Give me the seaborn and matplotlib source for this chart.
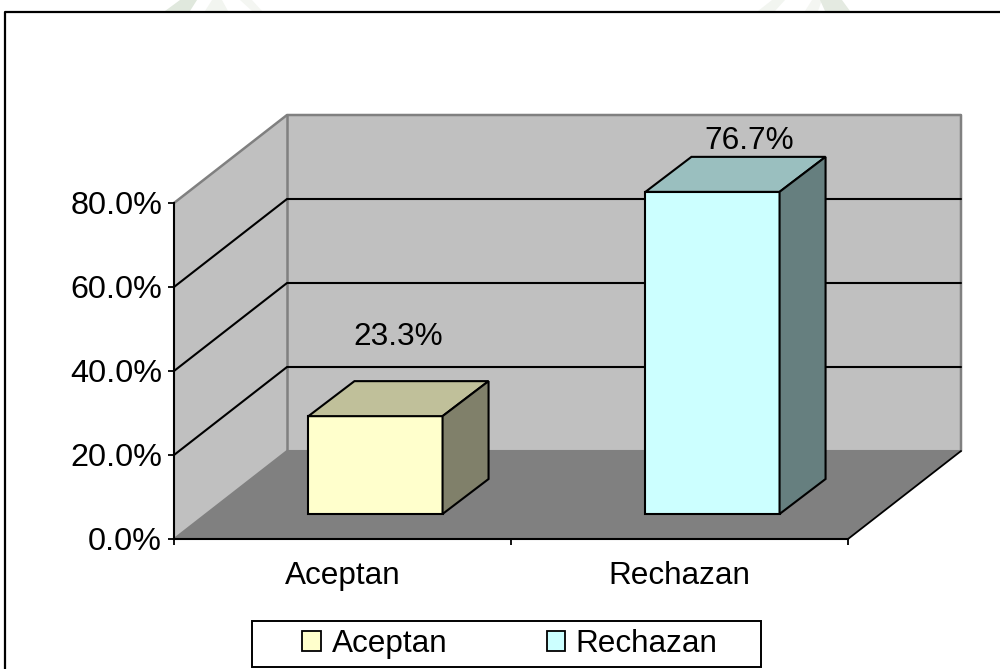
import matplotlib
matplotlib.use("Agg")
import matplotlib.pyplot as plt
from matplotlib.patches import Rectangle
import pandas as pd
import seaborn as sns

categorias = ["Aceptan", "Rechazan"]
porcentajes = [23.3, 76.7]
ticks_y = [0, 20, 40, 60, 80]
colores = ["#FFFFCC", "#CCFFFF"]
colores_top = ["#C0C09A", "#9ABFBF"]
colores_lado = ["#80806A", "#667F7F"]

W, H = 1000, 669
sns.set_theme(style="white")
plt.rcParams["font.family"] = ["Liberation Sans", "DejaVu Sans"]
FS = 22.7


def caja(x0, y0, x1, y1):
    # pixeles de la imagen (y hacia abajo) a fraccion de figura
    return [x0 / W, 1 - y1 / H, (x1 - x0) / W, (y1 - y0) / H]


fig = plt.figure(figsize=(W / 100, H / 100), dpi=100, facecolor="white")

# marco del grafico, marca de agua de la pagina y caja de la leyenda
fondo = fig.add_axes([0, 0, 1, 1], zorder=0)
fondo.set_xlim(0, W)
fondo.set_ylim(H, 0)
fondo.axis("off")
marcas = [
    ([165, 180, 197, 190], "#E0E8DD"),
    ([205, 212, 222, 228], "#F2F5F0"),
    ([252, 240, 252, 262], "#F4F6F2"),
    ([758, 772, 785, 775], "#F2F5F0"),
    ([805, 812, 822, 818], "#F4F6F2"),
    ([825, 820, 842, 850], "#E4EAE1"),
]
for xs, c in marcas:
    fondo.fill(xs, [11, 0, 0, 11], color=c, lw=0)
fondo.plot([5, 5, 1000], [669, 12, 12], color="black", lw=1.6)
fondo.add_patch(Rectangle((252, 621), 509, 46, facecolor="white", edgecolor="black", lw=1.4))

# plano frontal: 174-848 px en x, 539-203 px en y
ax = fig.add_axes(caja(174, 203, 848, 539), zorder=1)
ax.patch.set_alpha(0)
ax.set_xlim(-0.5, 1.5)
ax.set_ylim(0, 80)
prof_x = 113 / 337
prof_y = 88 / 4.2

x0, x1 = -0.5, 1.5
ax.fill([x0, x0 + prof_x, x0 + prof_x, x0], [0, prof_y, 80 + prof_y, 80], color="#C0C0C0", lw=0, clip_on=False)
ax.fill([x0 + prof_x, x1 + prof_x, x1 + prof_x, x0 + prof_x], [prof_y, prof_y, 80 + prof_y, 80 + prof_y],
        color="#C0C0C0", lw=0, clip_on=False)
ax.fill([x0, x1, x1 + prof_x, x0 + prof_x], [0, 0, prof_y, prof_y], color="#808080", lw=0, clip_on=False)
# aristas grises de paredes y piso
ax.plot([x0, x0 + prof_x, x1 + prof_x, x1 + prof_x], [80, 80 + prof_y, 80 + prof_y, prof_y],
        color="#808080", lw=1.8, clip_on=False)
ax.plot([x0 + prof_x, x0 + prof_x], [80 + prof_y, prof_y], color="#808080", lw=1.8, clip_on=False)
ax.plot([x0, x0 + prof_x, x1 + prof_x], [0, prof_y, prof_y], color="#808080", lw=1.5, clip_on=False)
ax.plot([x1, x1 + prof_x], [0, prof_y], color="black", lw=1.3, clip_on=False)
for v in ticks_y[1:-1]:
    ax.plot([x0, x0 + prof_x, x1 + prof_x], [v, v + prof_y, v + prof_y], color="black", lw=1.5, clip_on=False)

sns.despine(ax=ax, top=True, right=True)
for s in ["left", "bottom"]:
    ax.spines[s].set_color("black")
    ax.spines[s].set_linewidth(1.5)
ax.set_yticks(ticks_y)
ax.set_yticklabels(["%.1f%%" % v for v in ticks_y], fontsize=23.3, color="black")
ax.set_xticks([-0.5, 0.5, 1.5])
ax.set_xticklabels([])
ax.set_xticks([0, 1], labels=categorias, minor=True, fontsize=FS, color="black")
ax.tick_params(axis="y", which="major", left=True, length=4, width=1.3, color="black", pad=4.6)
ax.tick_params(axis="x", which="major", bottom=True, length=4, width=1.3, color="black")
ax.tick_params(axis="x", which="minor", bottom=False, pad=11.5)

# barras: plano desplazado dentro de la profundidad del piso
ax_b = fig.add_axes(caja(207, 178, 881, 514), zorder=2)
ax_b.patch.set_alpha(0)
df = pd.DataFrame({"categoria": categorias, "porcentaje": porcentajes})
sns.barplot(data=df, x="categoria", y="porcentaje", hue="categoria", palette=colores, width=0.398,
            legend=False, edgecolor="black", linewidth=1.5, saturation=1, ax=ax_b, zorder=3)
ax_b.set_xlim(-0.5, 1.5)
ax_b.set_ylim(0, 80)
ax_b.axis("off")

bar_x = 46 / 337
bar_y = 35 / 4.2
ajuste_x = [bar_x / 2, 37 / 337]
ajuste_y = [18.8, 12.0]
for i, p in enumerate(ax_b.patches[:2]):
    l, r, v = p.get_x(), p.get_x() + p.get_width(), p.get_height()
    p.set_clip_on(False)
    ax_b.fill([l, r, r + bar_x, l + bar_x], [v, v, v + bar_y, v + bar_y], facecolor=colores_top[i],
              edgecolor="black", lw=1.5, clip_on=False, zorder=3)
    ax_b.fill([r, r + bar_x, r + bar_x, r], [0, bar_y, v + bar_y, v], facecolor=colores_lado[i],
              edgecolor="black", lw=1.5, clip_on=False, zorder=3)
    ax_b.text((l + r) / 2 + ajuste_x[i], v + ajuste_y[i], "%.1f%%" % porcentajes[i], ha="center", va="center",
              fontsize=FS, color="black", clip_on=False, zorder=4)

handles = [Rectangle((0, 0), 1, 1, facecolor=c, edgecolor="black", lw=1.3) for c in colores]
leg = fig.legend(handles, categorias, ncol=2, loc="center", bbox_to_anchor=(510 / W, 1 - 644 / H),
                 fontsize=FS, frameon=False, labelcolor="black",
                 handlelength=0.58, handleheight=0.58, handletextpad=0.35, columnspacing=3.15,
                 borderpad=0, borderaxespad=0)
leg.set_zorder(5)

fig.savefig("out.png", dpi=100)
